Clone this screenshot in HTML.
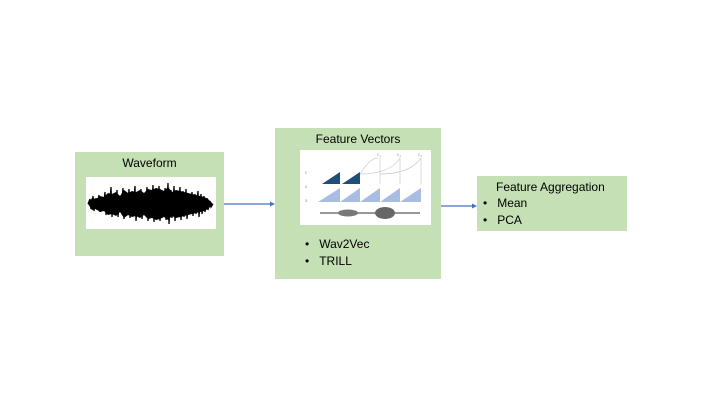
<!DOCTYPE html>
<html><head><meta charset="utf-8"><style>
body{margin:0;width:720px;height:405px;background:#fff;position:relative;overflow:hidden;font-family:"Liberation Sans",sans-serif;}
.box{position:absolute;background:#c5e0b4;}
.t{position:absolute;font-size:12px;color:#000;white-space:nowrap;}
</style></head><body>
<div class="box" style="left:75px;top:152px;width:149px;height:104px"></div>
<div class="t" style="left:75px;width:149px;text-align:center;top:156px">Waveform</div>
<div style="position:absolute;left:86px;top:177px;width:130px;height:52px;background:#fff"></div>
<svg style="position:absolute;left:86px;top:177px" width="130" height="52">
<polygon fill="#000" points="2,27 6,21 10,22 14,19 18,20 22,16 26,17 30,15 34,19 38,13 42,16 46,14 50,15 54,13 58,16 62,12 66,13 70,11 74,12 78,14 82,10 86,15 90,13 94,14 98,15 102,16 106,17 110,18 114,19 118,20 122,22 127,27 122,32 118,34 114,35 110,36 106,37 102,38 98,39 94,40 90,41 86,39 82,43 78,40 74,42 70,43 66,41 62,42 58,38 54,41 50,39 46,40 42,38 38,41 34,35 30,39 26,37 22,38 18,34 14,35 10,32 6,33"/>
<polyline fill="none" stroke="#000" stroke-width="1.3" points="2,27 4,22 5,32 7,19 8,34 10,21 11,33 13,18 14,35 16,20 17,34 19,15 20,38 22,19 23,36 25,10 26,40 28,17 29,37 31,13 32,40 34,19 35,35 37,11 38,42 40,16 41,38 43,12 44,41 46,18 47,36 49,9 50,44 52,15 53,39 55,12 56,42 58,17 59,37 61,10 62,44 64,14 65,40 67,8 68,45 70,13 71,41 73,9 74,44 76,15 77,39 79,11 80,43 82,6 83,47 85,13 86,41 88,9 89,44 91,16 92,38 94,10 95,43 97,14 98,40 100,12 101,42 103,18 104,37 106,15 107,39 109,17 110,37 112,14 113,40 115,17 116,37 118,19 119,35 121,21 122,33 124,24 125,30 127,27"/>
</svg>

<div class="box" style="left:275px;top:128px;width:166px;height:151px"></div>
<div class="t" style="left:275px;width:166px;text-align:center;top:132px">Feature Vectors</div>
<div style="position:absolute;left:300px;top:150px;width:131px;height:75px;background:#fff"></div>
<svg style="position:absolute;left:300px;top:150px" width="131" height="75" font-family="Liberation Serif" font-size="5" fill="#888">
<text x="5" y="24">c</text><text x="5" y="38">z</text><text x="5" y="52">x</text>
<polygon points="22,34 40,34 40,22" fill="#1f4e79"/>
<polygon points="42,34 60,34 60,22" fill="#1f4e79"/>
<polygon points="18,52 40,52 40,38" fill="#a9bde3"/>
<polygon points="40,52 60,52 60,38" fill="#a9bde3"/>
<polygon points="60,52 80,52 80,38" fill="#a9bde3"/>
<polygon points="80,52 100,52 100,38" fill="#a9bde3"/>
<polygon points="100,52 121,52 121,38" fill="#a9bde3"/>
<path d="M60,24 Q70,8 78,8 M80,34 V8 M60,24 Q90,24 100,8 M100,34 V8 M121,34 V8 M80,24 Q110,24 121,8" stroke="#ccc" fill="none" stroke-width="0.7"/>
<text x="77" y="6">c₁</text><text x="97" y="6">c₂</text><text x="118" y="6">c₃</text>
<path d="M20,63 H120" stroke="#777" stroke-width="1.5"/>
<ellipse cx="48" cy="63" rx="10" ry="3.5" fill="#777"/>
<ellipse cx="85" cy="63" rx="10" ry="6" fill="#666"/>
</svg>
<div class="t" style="left:305px;top:237px">•&nbsp;&nbsp;&nbsp;Wav2Vec</div>
<div class="t" style="left:305px;top:254px">•&nbsp;&nbsp;&nbsp;TRILL</div>

<div class="box" style="left:477px;top:176px;width:150px;height:55px"></div>
<div class="t" style="left:496px;top:180px">Feature Aggregation</div>
<div class="t" style="left:483px;top:196px">•&nbsp;&nbsp;&nbsp;Mean</div>
<div class="t" style="left:483px;top:213px">•&nbsp;&nbsp;&nbsp;PCA</div>

<svg style="position:absolute;left:0;top:0" width="720" height="405">
<line x1="224" y1="204" x2="271" y2="204" stroke="#4472c4" stroke-width="1.2"/>
<polygon points="275,204 270,201.5 270,206.5" fill="#4472c4"/>
<line x1="441" y1="206" x2="473" y2="206" stroke="#4472c4" stroke-width="1.2"/>
<polygon points="477,206 472,203.5 472,208.5" fill="#4472c4"/>
</svg>
</body></html>
